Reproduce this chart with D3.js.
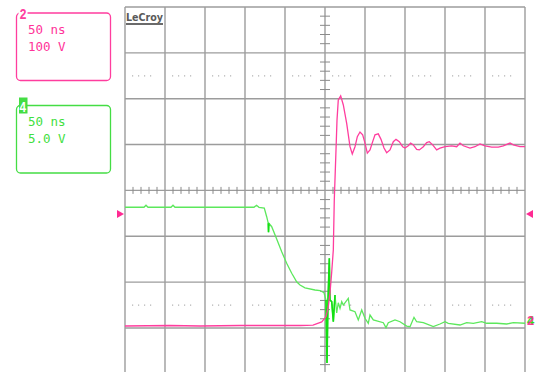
<!DOCTYPE html>
<html><head><meta charset="utf-8">
<script src="https://cdn.jsdelivr.net/npm/d3@7"></script>
<style>html,body{margin:0;padding:0;background:#fff;}svg{display:block;}</style>
</head><body>
<script>
// ---- data ----
const timeDivs = [-250,-200,-150,-100,-50,0,50,100,150,200,250]; // ns, 50 ns/div
const voltDivs = [-4,-3,-2,-1,0,1,2,3,4];                          // divisions
const dottedLevels = [2.5,-2.5];                                   // divisions
const ch2Label = ["50 ns","100 V"];
const ch4Label = ["50 ns","5.0 V"];
const ch2VoltsPerDiv = 100, ch2OffsetDiv = -2.957;
const ch4VoltsPerDiv = 5,   ch4OffsetDiv = -2.892;
const triggerLevelDiv = -0.515;

const ch2Time  = [-250,-194,-156,-106,-69,-31,-15,-4.1,1.25,4.1,6.25,8.4,10.4,11.6,13.75,15,16.6,19.6,22.9,27.1,31.25,34.1,37.5,40.4,43.75,47.1,50,52.9,56.25,59.6,62.5,66.6,70,73.75,77.1,81.25,85.4,88.75,92.9,97.1,100,104.1,107.1,110.4,114.6,117.9,122.9,127.1,130.4,134.6,139.6,143.75,150,158.4,164.6,168.75,172.9,181.25,187.5,193.75,200,208.4,216.6,222.9,231.25,235.4,243.75,250];
const ch2Volts = [0,1,0,1,1,1,2,9,20,42,72,118,166,275,384,449,493,502,482,442,391,375,391,413,423,417,399,377,384,402,417,419,407,388,378,384,402,407,402,391,388,393,399,395,385,384,391,400,402,395,384,388,391,393,391,399,393,388,391,397,393,390,390,393,399,395,391,391];

const ch4Time  = [-250,-226.25,-223.75,-221.25,-192.5,-190,-187.5,-88.75,-85.6,-82.5,-75.9,-72.9,-70.9,-70.6,-70.2,-66.6,-60.4,-54.1,-47.9,-41.6,-35.4,-31.25,-25,-12.5,-6.25,-1.25,1.25,2.5,3.75,5.4,6.25,8.4,10.4,12.5,14.6,16.6,18.75,20.9,22.9,29.1,31.25,37.5,41.6,45.9,50,54.1,56.25,60.4,72.9,76.25,79.1,87.5,93.75,102.1,106.25,111.25,114.6,122.9,135.4,143.75,150,154.1,168.75,177.1,185.4,195.9,202.1,214.6,227.1,235.4,250];
const ch4Volts = [12.62,12.62,12.84,12.62,12.62,12.84,12.62,12.62,12.84,12.62,12.54,11.59,10.87,9.9,10.87,10.50,9.16,7.77,6.51,5.42,4.50,4.14,3.84,3.60,3.54,3.30,2.51,-4.36,2.51,7.06,2.51,2.32,0.14,3.05,1.09,2.21,1.60,2.32,1.96,2.69,1.42,1.23,0.33,1.42,0.51,-0.03,0.87,0.33,0.03,-0.51,0.03,0.33,0.14,-0.33,-0.40,0.62,0.14,0.03,-0.40,-0.11,0.14,-0.03,-0.22,0.03,-0.03,0.14,-0.03,-0.03,-0.11,0.03,-0.03];

// ---- drawing ----
const W = 540, H = 372;
const svg = d3.select("body").append("svg").attr("width", W).attr("height", H);

const x = d3.scaleLinear().domain([-250,250]).range([125,525]);
const y = d3.scaleLinear().domain([-4,4]).range([373.8,7]);

const gridCol = "#9c9c9c";
const pink = "#ff3d9e", green = "#5ce85c";

// grid
const g = svg.append("g");
g.selectAll("line.v").data(timeDivs).join("line")
  .attr("x1", d => x(d)).attr("x2", d => x(d))
  .attr("y1", y(4)).attr("y2", H)
  .attr("stroke", gridCol).attr("stroke-width", 1.4);
g.selectAll("line.h").data(voltDivs).join("line")
  .attr("x1", x(-250)).attr("x2", x(250))
  .attr("y1", d => y(d)).attr("y2", d => y(d))
  .attr("stroke", gridCol).attr("stroke-width", 1.4);

// dotted lines
dottedLevels.forEach(lv => {
  const pts = [];
  timeDivs.slice(0,-1).forEach(t0 => {
    [7,13,19,25].forEach(o => pts.push(x(t0) + o));
  });
  g.selectAll(null).data(pts).join("rect")
    .attr("x", d => d).attr("y", y(lv) - 0.5).attr("width", 1.2).attr("height", 1.2)
    .attr("fill", "#b0b0b0");
});

// center axis ticks
const hTicks = d3.range(-250, 251, 10).filter(t => t % 50 !== 0);
g.selectAll(null).data(hTicks).join("line")
  .attr("x1", d => x(d)).attr("x2", d => x(d))
  .attr("y1", y(0) - 3.5).attr("y2", y(0) + 3.5)
  .attr("stroke", "#8a8a8a").attr("stroke-width", 1);
const vTicks = d3.range(-40, 41, 2).map(d => d / 10).filter(d => Math.abs(d - Math.round(d)) > 1e-6);
g.selectAll(null).data(vTicks).join("line")
  .attr("x1", x(0) - 5).attr("x2", x(0) + 5)
  .attr("y1", d => y(d)).attr("y2", d => y(d))
  .attr("stroke", "#8a8a8a").attr("stroke-width", 1);

// LeCroy logo
svg.append("text").attr("x", 126).attr("y", 21)
  .attr("font-family", "DejaVu Sans Condensed, DejaVu Sans").attr("font-weight", "bold")
  .attr("font-size", 11).attr("fill", "#5a5a5a")
  .attr("textLength", 37).attr("lengthAdjust", "spacingAndGlyphs").text("LeCroy");
svg.append("rect").attr("x", 126).attr("y", 23).attr("width", 37).attr("height", 2).attr("fill", "#6a6a6a");

// traces
const ch2Y = v => y(v / ch2VoltsPerDiv + ch2OffsetDiv);
const ch4Y = v => y(v / ch4VoltsPerDiv + ch4OffsetDiv);
const ch2Data = ch2Time.map((t,i) => [t, ch2Volts[i]]);
const ch4Data = ch4Time.map((t,i) => [t, ch4Volts[i]]);

const line2 = d3.line().x(d => x(d[0])).y(d => ch2Y(d[1]));
const line4 = d3.line().x(d => x(d[0])).y(d => ch4Y(d[1]));

svg.append("path").datum(ch4Data).attr("d", line4)
  .attr("fill", "none").attr("stroke", green).attr("stroke-width", 1.3);
svg.append("path").datum(ch4Data.filter(d => d[0] >= 0 && d[0] <= 13))
  .attr("d", line4).attr("fill", "none").attr("stroke", "#12e012").attr("stroke-width", 1.6);
svg.append("path").datum(ch4Data.filter(d => d[0] >= -71 && d[0] <= -70))
  .attr("d", line4).attr("fill", "none").attr("stroke", "#12e012").attr("stroke-width", 1.6);
svg.append("path").datum(ch2Data).attr("d", line2)
  .attr("fill", "none").attr("stroke", pink).attr("stroke-width", 1.3);

// trigger level markers
const ty = y(triggerLevelDiv);
svg.append("path").attr("d", `M117,${ty-4}L124,${ty}L117,${ty+4}Z`).attr("fill", "#ff2a93");
svg.append("path").attr("d", `M533,${ty-4}L526,${ty}L533,${ty+4}Z`).attr("fill", "#ff2a93");

// ground markers on the right
svg.append("text").attr("x", 527).attr("y", ch4Y(0) + 2)
  .attr("font-family", "Liberation Sans").attr("font-weight", "bold").attr("font-size", 13)
  .attr("fill", "#22e022").text("4");
svg.append("text").attr("x", 527).attr("y", ch2Y(0) - 1)
  .attr("font-family", "Liberation Sans").attr("font-weight", "bold").attr("font-size", 13)
  .attr("fill", "#ff2a93").attr("opacity", 0.9).text("2");

// channel boxes
function chBox(y0, col, textCol, label, lines, filled) {
  svg.append("rect").attr("x", 16.5).attr("y", y0).attr("width", 94).attr("height", 67.5)
    .attr("rx", 4).attr("fill", "none").attr("stroke", col).attr("stroke-width", 1.3);
  if (filled) {
    svg.append("rect").attr("x", 19).attr("y", y0 - 8).attr("width", 8.5).attr("height", 16).attr("fill", col);
    svg.append("text").attr("transform", `translate(19.6,${y0 + 6}) scale(0.78,1)`)
      .attr("font-family", "Liberation Sans").attr("font-weight", "bold").attr("font-size", 15)
      .attr("fill", "#fff").text(label);
  } else {
    svg.append("rect").attr("x", 18.5).attr("y", y0 - 8).attr("width", 9).attr("height", 14).attr("fill", "#fff");
    svg.append("text").attr("transform", `translate(19.8,${y0 + 6}) scale(0.8,1)`)
      .attr("font-family", "Liberation Sans").attr("font-weight", "bold").attr("font-size", 15)
      .attr("fill", col).text(label);
  }
  svg.selectAll(null).data(lines).join("text")
    .attr("x", 28).attr("y", (d,i) => y0 + 20.5 + i * 17)
    .attr("font-family", "DejaVu Sans Mono").attr("font-size", 12.5)
    .attr("fill", textCol).text(d => d);
}
chBox(13, "#ff3d9e", "#ff3399", "2", ch2Label, false);
chBox(105.5, "#44dd44", "#3fe03f", "4", ch4Label, true);
</script>
</body></html>
